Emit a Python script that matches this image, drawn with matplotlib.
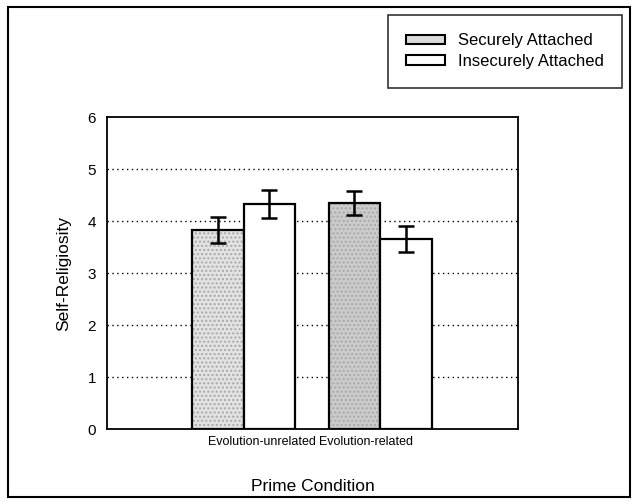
import numpy as np
import matplotlib.pyplot as plt
from matplotlib.patches import Rectangle, Patch

plt.rcParams['font.family'] = ['Liberation Sans', 'DejaVu Sans']

# datos
categorias = ["Evolution-unrelated", "Evolution-related"]
series = ["Securely Attached", "Insecurely Attached"]
seguro = [3.83, 4.35]
seguro_err = [0.25, 0.23]
inseguro = [4.33, 3.65]
inseguro_err = [0.27, 0.25]
yticks = [0, 1, 2, 3, 4, 5, 6]

fig = plt.figure(figsize=(6.32, 5.04), dpi=100)
ax = fig.add_axes([0.1693, 0.1488, 0.6503, 0.6190])

x = np.arange(len(categorias))
w = 0.377

# relleno punteado (gris) y luego el contorno
ax.bar(x - w / 2, seguro, w, color=['#e2e2e2', '#cbcbcb'], edgecolor='#a8a8a8',
       linewidth=0, hatch='....', zorder=3)
ax.bar(x - w / 2, seguro, w, color='none', edgecolor='black',
       linewidth=1.6, zorder=3)
ax.bar(x + w / 2, inseguro, w, color='white', edgecolor='black',
       linewidth=1.6, zorder=3)
ax.errorbar(x - w / 2, seguro, yerr=seguro_err, fmt='none', ecolor='black',
            elinewidth=1.8, capsize=6, capthick=1.8, zorder=4)
ax.errorbar(x + w / 2, inseguro, yerr=inseguro_err, fmt='none', ecolor='black',
            elinewidth=1.8, capsize=6, capthick=1.8, zorder=4)

ax.set_xlim(-1.0, 2.01)
ax.set_ylim(0, 6)
ax.set_yticks(yticks)
# las etiquetas del original quedan juntas en el centro
ax.set_xticks([0.135, 0.897])
ax.set_xticklabels(categorias, fontsize=9)
ax.tick_params(axis='both', length=0)
ax.tick_params(axis='y', pad=8, labelsize=11)
ax.tick_params(axis='x', pad=5)

for v in yticks[1:-1]:
    ax.axhline(v, color='black', linestyle=(0, (1, 2.5)), linewidth=1.0, zorder=1)

for s in ax.spines.values():
    s.set_linewidth(1.3)
    s.set_color('black')

ax.set_ylabel("Self-Religiosity", fontsize=12.5, labelpad=12)
ax.set_xlabel("Prime Condition", fontsize=12.5, labelpad=22)

# leyenda
handles = [Patch(facecolor='#dadada', edgecolor='black', linewidth=1.5),
           Patch(facecolor='white', edgecolor='black', linewidth=1.5)]
leg = fig.legend(handles, series, loc='upper left',
                 bbox_to_anchor=(388 / 632, 1 - 15 / 504), fontsize=12,
                 frameon=True, fancybox=False, edgecolor='black',
                 handlelength=2.3, handleheight=0.5, handletextpad=0.8,
                 borderpad=1.1, labelspacing=0.35, borderaxespad=0)
leg.get_frame().set_linewidth(1.2)

# marco exterior
fig.patches.append(Rectangle((8 / 632, 7 / 504), 622 / 632, 490 / 504,
                             transform=fig.transFigure, fill=False,
                             edgecolor='black', linewidth=1.5))

plt.savefig("out.png", dpi=100)
